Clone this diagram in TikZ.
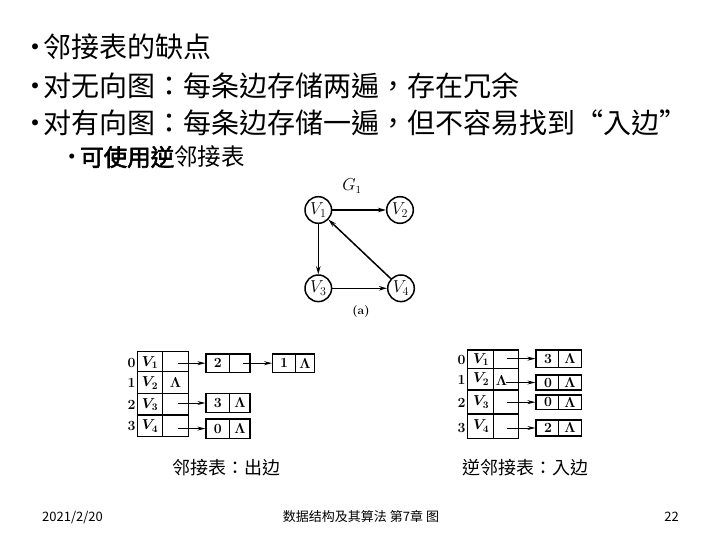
\documentclass[tikz,border=0pt]{standalone}
\usepackage{fontspec}
\newfontfamily\cjk{Noto Sans CJK TC}
\newfontfamily\cjkb{Noto Sans CJK TC}[FakeBold=2.5]
\usetikzlibrary{arrows.meta}
\tikzset{
  big/.style={font=\cjk\fontsize{28}{30}\selectfont, inner sep=0pt},
  mid/.style={font=\cjk\fontsize{23.5}{25}\selectfont, inner sep=0pt},
  captext/.style={font=\cjk\fontsize{18}{20}\selectfont, inner sep=0pt},
  foot/.style={font=\cjk\fontsize{13}{15}\selectfont, inner sep=0pt},
  vert/.style={circle, draw, line width=1.5pt, minimum size=26.6pt, inner sep=0pt, font=\fontsize{16.5}{16.5}\selectfont},
  garrow/.style={line width=1.5pt, -{Stealth[length=8pt,width=4.5pt]}},
  tarrow/.style={line width=1pt, -{Stealth[length=8pt,width=4pt]}},
  cell/.style={draw, line width=1.2pt, inner sep=0pt},
  tline/.style={line width=1.2pt},
  tl/.style={inner sep=0pt, font=\boldmath\fontsize{14.5}{14.5}\selectfont},
  idx/.style={inner sep=0pt, font=\bfseries\fontsize{14}{14}\selectfont},
}
\begin{document}
\begin{tikzpicture}[x=1pt,y=-1pt]
\useasboundingbox (0,0) rectangle (720,540);
% ---- text lines
\node[big, anchor=base] (b1) at (35,58) {•};
\node[big, anchor=base west] (t1) at (43,58) {邻接表的缺点};
\node[big, anchor=base] (b2) at (35,97) {•};
\node[big, anchor=base west] (t2) at (43,97) {对无向图：每条边存储两遍，存在冗余};
\node[big, anchor=base] (b3) at (35,134) {•};
\node[big, anchor=base west] (t3) at (43,134) {对有向图：每条边存储一遍，但不容易找到“入边”};
\node[mid, anchor=base] (b4) at (72,166) {•};
\node[mid, anchor=base west] (t4) at (80,166) {{\cjkb 可使用逆}邻接表};
% ---- graph
\node[vert] (v1) at (318.3,210) {$V_1$};
\node[vert] (v2) at (400,210) {$V_2$};
\node[vert] (v3) at (318.3,288.3) {$V_3$};
\node[vert] (v4) at (401,288.3) {$V_4$};
\node[inner sep=0pt, font=\fontsize{16}{16}\selectfont] (g1) at (352,186) {$G_1$};
\node[inner sep=0pt, font=\bfseries\fontsize{12}{12}\selectfont] (pa) at (361,312) {(a)};
\draw[garrow] (v1) -- (v2);
\draw[garrow] (v1) -- (v3);
\draw[garrow] (v3) -- (v4);
\draw[garrow] (v4) -- (v1);
% ---- left adjacency list
\draw[tline] (137.7,351.7) rectangle (188.3,436.7);
\draw[tline] (162.3,351.7) -- (162.3,436.7);
\foreach \yy in {371.7,393.3,415} \draw[tline] (137.7,\yy) -- (188.3,\yy);
\node[idx] (li0) at (131.5,362.5) {0};
\node[idx] (li1) at (131.5,383) {1};
\node[idx] (li2) at (131.5,404.5) {2};
\node[idx] (li3) at (131.5,426) {3};
\node[tl] (lv0) at (150,362.5) {$V_1$};
\node[tl] (lv1) at (150,383) {$V_2$};
\node[tl] (lv2) at (150,404.5) {$V_3$};
\node[tl] (lv3) at (150,426) {$V_4$};
\node[tl] (lnil1) at (175.5,382.5) {$\Lambda$};
% list nodes
\node[cell, minimum width=44pt, minimum height=18.3pt] (n01) at (228,363.2) {};
\draw[tline] (229.3,354) -- (229.3,372.3);
\node[idx] (n01a) at (217.8,363.2) {2};
\node[cell, minimum width=41.6pt, minimum height=18.3pt] (n02) at (293.5,363.2) {};
\draw[tline] (295.7,354) -- (295.7,372.3);
\node[idx] (n02a) at (284,363.2) {1};
\node[tl] (n02b) at (305,363.2) {$\Lambda$};
\node[cell, minimum width=44pt, minimum height=19.4pt] (n21) at (228,403) {};
\draw[tline] (229.3,393.3) -- (229.3,412.7);
\node[idx] (n21a) at (217.8,403) {3};
\node[tl] (n21b) at (240,403) {$\Lambda$};
\node[cell, minimum width=44pt, minimum height=19.3pt] (n31) at (228,428.6) {};
\draw[tline] (229.3,419) -- (229.3,438.3);
\node[idx] (n31a) at (217.8,428.6) {0};
\node[tl] (n31b) at (240,428.6) {$\Lambda$};
\coordinate (ls0) at (178.3,363.2);
\coordinate (ls01) at (243.3,363.2);
\coordinate (ls2) at (178.3,403);
\coordinate (ls3) at (178.3,428.6);
\draw[tarrow] (ls0) -- (n01.west);
\draw[tarrow] (ls01) -- (n02.west);
\draw[tarrow] (ls2) -- (n21.west);
\draw[tarrow] (ls3) -- (n31.west);
% ---- right inverse adjacency list
\draw[tline] (467.3,350) rectangle (518.3,438.3);
\draw[tline] (493.3,350) -- (493.3,438.3);
\foreach \yy in {368.3,390,414} \draw[tline] (467.3,\yy) -- (518.3,\yy);
\node[idx] (ri0) at (461.5,360) {0};
\node[idx] (ri1) at (461.5,380) {1};
\node[idx] (ri2) at (461.5,402.5) {2};
\node[idx] (ri3) at (461.5,428) {3};
\node[tl] (rv0) at (481,359.5) {$V_1$};
\node[tl] (rv1) at (481,379) {$V_2$};
\node[tl] (rv2) at (481,402) {$V_3$};
\node[tl] (rv3) at (481,426) {$V_4$};
\node[tl] (rnil1) at (501.5,381) {$\Lambda$};
\node[cell, minimum width=45.7pt, minimum height=17.3pt] (m0) at (558.85,358.65) {};
\draw[tline] (558.3,350) -- (558.3,367.3);
\node[idx] (m0a) at (548,358.65) {3};
\node[tl] (m0b) at (570,358.65) {$\Lambda$};
\node[cell, minimum width=45.7pt, minimum height=15pt] (m1) at (558.85,382.5) {};
\draw[tline] (558.3,375) -- (558.3,390);
\node[idx] (m1a) at (548,382.5) {0};
\node[tl] (m1b) at (570,382.5) {$\Lambda$};
\node[cell, minimum width=45.7pt, minimum height=14.3pt] (m2) at (558.85,402.15) {};
\draw[tline] (558.3,395) -- (558.3,409.3);
\node[idx] (m2a) at (548,402.15) {0};
\node[tl] (m2b) at (570,402.15) {$\Lambda$};
\node[cell, minimum width=45.7pt, minimum height=16pt] (m3) at (558.85,428) {};
\draw[tline] (558.3,420) -- (558.3,436);
\node[idx] (m3a) at (548,428) {2};
\node[tl] (m3b) at (570,428) {$\Lambda$};
\coordinate (rs0) at (507.3,358.65);
\coordinate (rs1) at (506,382.5);
\coordinate (rs2) at (507.3,402.15);
\coordinate (rs3) at (507.3,428);
\draw[tarrow] (rs0) -- (m0.west);
\draw[tarrow] (rs1) -- (m1.west);
\draw[tarrow] (rs2) -- (m2.west);
\draw[tarrow] (rs3) -- (m3.west);
% ---- captions
\node[captext, anchor=west] (c1) at (172,468) {邻接表：出边};
\node[captext, anchor=west] (c2) at (462,468) {逆邻接表：入边};
% ---- footer
\node[foot, anchor=west] (f1) at (42,517) {2021/2/20};
\node[foot, anchor=center] (f2) at (361,517) {数据结构及其算法 第7章 图};
\node[foot, anchor=east] (f3) at (679,517) {22};
\end{tikzpicture}
\end{document}
